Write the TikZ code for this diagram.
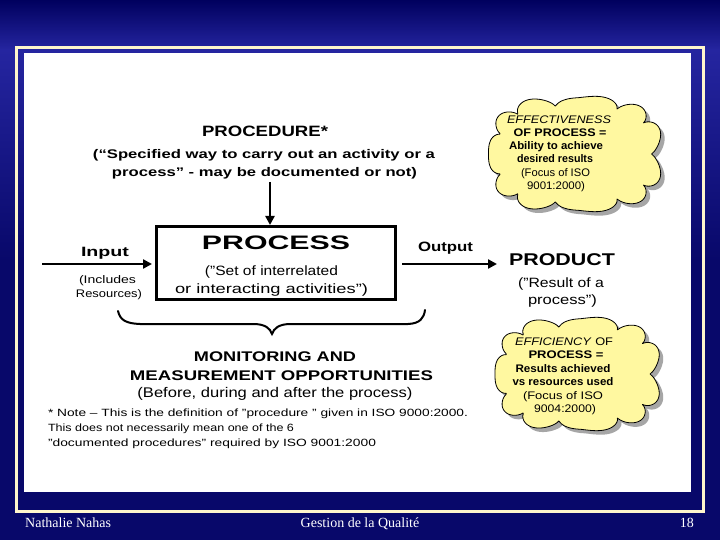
\documentclass[tikz,border=0pt]{standalone}
\usepackage{fontspec}
\usepackage{graphicx}
\setmainfont{Liberation Sans}
\newfontfamily\footfont{Liberation Serif}
\usetikzlibrary{arrows.meta}
\definecolor{navytop}{HTML}{00005E}
\definecolor{navymid}{HTML}{2525A0}
\definecolor{navybot}{HTML}{08086A}
\definecolor{cream}{HTML}{FFF6CC}
\definecolor{cloudy}{RGB}{255,248,160}
\newcommand\fs[1]{\fontsize{#1}{#1}\selectfont}
\newcommand\wt[2]{\resizebox{#1pt}{\height}{#2}}
% cloud outline: centre x, centre y, semi-axis a, semi-axis b (rounded-rectangle core with puffs)
\newcommand\cloudpath[4]{plot[domain=0:360, samples=440, variable=\t]
  ({#1 + (#3 + 11*pow(abs(sin(5.5*\t))+0.0001,0.55))*sign(cos(\t))*pow(abs(cos(\t))+0.00001,0.7)},
   {#2 + (#4 + 11*pow(abs(sin(5.5*\t))+0.0001,0.55))*sign(sin(\t))*pow(abs(sin(\t))+0.00001,0.7)}) -- cycle}
\begin{document}
\begin{tikzpicture}[x=1pt,y=-1pt,
  txt/.style={anchor=base, inner sep=0pt, outer sep=0pt},
  arr/.style={line width=2.6pt, -{Triangle[length=9pt,width=9pt]}},
  cloudfill/.style={draw=black, line width=0.8pt, fill=cloudy, line join=round},
  cloudshadow/.style={fill=black!35},
  foot/.style={inner sep=0pt, text=white, font=\footfont\fs{14}}]
\useasboundingbox (0,0) rectangle (720,540);
% background
\shade[top color=navytop, bottom color=navymid] (0,0) rectangle (720,50);
\shade[top color=navymid, bottom color=navybot] (0,50) rectangle (720,260);
\fill[navybot] (0,260) rectangle (720,540);
\draw[cream, line width=3pt] (16.5,47.5) rectangle (703.5,511.5);
\fill[white] (24,53) rectangle (691,492);
% procedure
\node[txt] (proc1) at (265,137) {\wt{126}{\fs{15}\bfseries PROCEDURE*}};
\node[txt] (proc2) at (264,159) {\wt{342}{\fs{12.5}\bfseries (“Specified way to carry out an activity or a}};
\node[txt] (proc3) at (264.5,177) {\wt{305}{\fs{12.5}\bfseries process” - may be documented or not)}};
% process box
\node[draw, line width=3pt, minimum width=239pt, minimum height=73pt, inner sep=0pt] (box) at (276,263) {};
\node[txt] (pr1) at (276,250) {\wt{148}{\fs{19.5}\bfseries PROCESS}};
\node[txt] (pr2) at (271.5,275) {\wt{133}{\fs{13.5}("Set of interrelated}};
\node[txt] (pr3) at (271.5,293) {\wt{193}{\fs{13.5}or interacting activities")}};
\coordinate (procA) at (270,182);
\draw[arr] (procA) -- (procA |- box.north);
% input
\node[txt] (in1) at (105,256) {\wt{48}{\fs{13.5}\bfseries Input}};
\node[txt] (in2) at (107.5,283) {\wt{57}{\fs{11}(Includes}};
\node[txt] (in3) at (109,297) {\wt{66}{\fs{11}Resources)}};
\coordinate (inA) at (42,264);
\draw[arr, shorten >=3pt] (inA) -- (inA -| box.west);
% output
\node[txt] (out1) at (445.5,251) {\wt{55}{\fs{13.5}\bfseries Output}};
\coordinate (outB) at (497,264);
\draw[arr, shorten <=5pt] (outB -| box.east) -- (outB);
% product
\node[txt] (pd1) at (562,265) {\wt{106}{\fs{17}\bfseries PRODUCT}};
\node[txt] (pd2) at (561,287) {\wt{86}{\fs{13.5}("Result of a}};
\node[txt] (pd3) at (562.5,304) {\wt{69}{\fs{13.5}process")}};
% brace
\draw[line width=2pt, line cap=round] (118,311) .. controls (120,320) and (126,323.5) .. (140,324)
  -- (255,324) .. controls (265,324.5) and (270,328) .. (272,334)
  .. controls (274,328) and (279,324.5) .. (289,324) -- (408,324)
  .. controls (420,323.5) and (424,318) .. (425,310);
% monitoring
\node[txt] (mo1) at (275,361) {\wt{162}{\fs{14}\bfseries MONITORING AND}};
\node[txt] (mo2) at (281.5,380) {\wt{303}{\fs{14}\bfseries MEASUREMENT OPPORTUNITIES}};
\node[txt] (mo3) at (275,397) {\wt{275}{\fs{14}(Before, during and after the process)}};
% note
\node[txt, anchor=base west] (n1) at (48,416) {\wt{420}{\fs{10.5}* Note – This is the definition of "procedure " given in ISO 9000:2000.}};
\node[txt, anchor=base west] (n2) at (48,431) {\wt{246}{\fs{10.5}This does not necessarily mean one of the 6}};
\node[txt, anchor=base west] (n3) at (48,446) {\wt{328}{\fs{10.5}"documented procedures" required by ISO 9001:2000}};
% clouds
\fill[cloudshadow] [shift={(4,4)}] \cloudpath{575.5}{154}{76}{47};
\draw[cloudfill] \cloudpath{575.5}{154}{76}{47};
\node[txt] (e1) at (559,124) {\wt{104}{\fs{11}\itshape EFFECTIVENESS}};
\node[txt] (e2) at (560,137) {\wt{93}{\fs{11}\bfseries OF PROCESS =}};
\node[txt] (e3) at (556,150) {\wt{94}{\fs{11}\bfseries Ability to achieve}};
\node[txt] (e4) at (555,163) {\wt{76}{\fs{11}\bfseries desired results}};
\node[txt] (e5) at (555.5,177) {\wt{69}{\fs{11}(Focus of ISO}};
\node[txt] (e6) at (556,190) {\wt{58}{\fs{11}9001:2000)}};
\fill[cloudshadow] [shift={(4,4)}] \cloudpath{578}{374}{72}{46};
\draw[cloudfill] \cloudpath{578}{374}{72}{46};
\node[txt] (f1) at (564,345) {\wt{98}{\fs{11}\textit{EFFICIENCY} OF}};
\node[txt] (f2) at (566,358) {\wt{75}{\fs{11}\bfseries PROCESS =}};
\node[txt] (f3) at (563,372) {\wt{95}{\fs{11}\bfseries Results achieved}};
\node[txt] (f4) at (563,385) {\wt{101}{\fs{11}\bfseries vs resources used}};
\node[txt] (f5) at (563,399) {\wt{80}{\fs{11}(Focus of ISO}};
\node[txt] (f6) at (565,412) {\wt{62}{\fs{11}9004:2000)}};
% footer
\node[foot, anchor=base west] (ft1) at (25,527) {Nathalie Nahas};
\node[foot, anchor=base] (ft2) at (360,527) {Gestion de la Qualité};
\node[foot, anchor=base east] (ft3) at (694,527) {18};
\end{tikzpicture}
\end{document}
